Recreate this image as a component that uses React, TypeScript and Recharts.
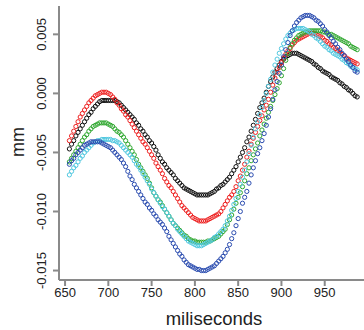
import React from "react";
import { ComposedChart, Line, XAxis, YAxis } from "recharts";

// time axis, one sample every 2.5 ms
const ms = [
  655, 657.5, 660, 662.5, 665, 667.5, 670, 672.5, 675, 677.5, 680, 682.5, 685, 687.5, 690, 692.5, 695, 697.5, 700, 702.5,
  705, 707.5, 710, 712.5, 715, 717.5, 720, 722.5, 725, 727.5, 730, 732.5, 735, 737.5, 740, 742.5, 745, 747.5, 750, 752.5,
  755, 757.5, 760, 762.5, 765, 767.5, 770, 772.5, 775, 777.5, 780, 782.5, 785, 787.5, 790, 792.5, 795, 797.5, 800, 802.5,
  805, 807.5, 810, 812.5, 815, 817.5, 820, 822.5, 825, 827.5, 830, 832.5, 835, 837.5, 840, 842.5, 845, 847.5, 850, 852.5,
  855, 857.5, 860, 862.5, 865, 867.5, 870, 872.5, 875, 877.5, 880, 882.5, 885, 887.5, 890, 892.5, 895, 897.5, 900, 902.5,
  905, 907.5, 910, 912.5, 915, 917.5, 920, 922.5, 925, 927.5, 930, 932.5, 935, 937.5, 940, 942.5, 945, 947.5, 950, 952.5,
  955, 957.5, 960, 962.5, 965, 967.5, 970, 972.5, 975, 977.5, 980, 982.5, 985, 987.5,
];

const blackVals = [
  -0.0047, -0.0043, -0.004, -0.0036, -0.0033, -0.003, -0.0027, -0.0024, -0.0021, -0.0018, -0.0016, -0.0013, -0.0011, -0.0009, -0.0007, -0.0006, -0.0006, -0.0006, -0.0006, -0.0006,
  -0.0006, -0.0006, -0.0007, -0.0008, -0.001, -0.0012, -0.0014, -0.0016, -0.0018, -0.002, -0.0022, -0.0025, -0.0027, -0.003, -0.0032, -0.0035, -0.0037, -0.004, -0.0042, -0.0045,
  -0.0048, -0.0052, -0.0055, -0.0058, -0.006, -0.0063, -0.0065, -0.0067, -0.0069, -0.0072, -0.0074, -0.0076, -0.0078, -0.008, -0.0081, -0.0082, -0.0083, -0.0084, -0.0085, -0.0086,
  -0.0086, -0.0086, -0.0086, -0.0086, -0.0086, -0.0085, -0.0084, -0.0083, -0.0081, -0.008, -0.0078, -0.0077, -0.0075, -0.0073, -0.0071, -0.0068, -0.0065, -0.0062, -0.0058, -0.0054,
  -0.005, -0.0046, -0.0041, -0.0037, -0.0032, -0.0027, -0.0022, -0.0017, -0.0012, -0.0008, -0.0004, 0.0001, 0.0006, 0.001, 0.0014, 0.0018, 0.0021, 0.0024, 0.0027, 0.0029,
  0.0031, 0.0032, 0.0033, 0.0034, 0.0034, 0.0034, 0.0033, 0.0032, 0.0031, 0.003, 0.0029, 0.0028, 0.0027, 0.0025, 0.0024, 0.0022, 0.0021, 0.0019, 0.0018, 0.0017,
  0.0016, 0.0014, 0.0013, 0.0012, 0.0011, 0.0009, 0.0008, 0.0006, 0.0005, 0.0003, 0.0002, 0.0, -0.0002, -0.0003,
];

const redVals = [
  -0.004, -0.0036, -0.0032, -0.0028, -0.0024, -0.002, -0.0017, -0.0014, -0.0011, -0.0008, -0.0006, -0.0004, -0.0002, -0.0001, 0.0, 0.0001, 0.0001, 0.0001, 0.0, -0.0001,
  -0.0003, -0.0005, -0.0008, -0.001, -0.0013, -0.0015, -0.0018, -0.002, -0.0023, -0.0026, -0.0029, -0.0032, -0.0035, -0.0038, -0.0041, -0.0043, -0.0046, -0.0049, -0.0052, -0.0055,
  -0.0059, -0.0062, -0.0065, -0.0068, -0.0072, -0.0075, -0.0078, -0.008, -0.0083, -0.0086, -0.0089, -0.0092, -0.0095, -0.0097, -0.0099, -0.0101, -0.0103, -0.0105, -0.0106, -0.0107,
  -0.0108, -0.0108, -0.0108, -0.0108, -0.0107, -0.0106, -0.0105, -0.0104, -0.0103, -0.0102, -0.01, -0.0097, -0.0094, -0.0091, -0.0088, -0.0086, -0.0083, -0.0079, -0.0074, -0.007,
  -0.0065, -0.006, -0.0054, -0.0049, -0.0043, -0.0038, -0.0033, -0.0028, -0.0023, -0.0019, -0.0014, -0.001, -0.0005, 0.0001, 0.0007, 0.0013, 0.0018, 0.0022, 0.0026, 0.003,
  0.0033, 0.0036, 0.0038, 0.0041, 0.0043, 0.0045, 0.0046, 0.0047, 0.0048, 0.0049, 0.005, 0.0051, 0.0051, 0.0051, 0.005, 0.0049, 0.0048, 0.0047, 0.0045, 0.0044,
  0.0042, 0.0041, 0.0039, 0.0038, 0.0036, 0.0035, 0.0033, 0.0032, 0.003, 0.0029, 0.0028, 0.0027, 0.0026, 0.0025,
];

const greenVals = [
  -0.0058, -0.0055, -0.0052, -0.0049, -0.0046, -0.0043, -0.004, -0.0037, -0.0035, -0.0032, -0.003, -0.0028, -0.0027, -0.0026, -0.0025, -0.0025, -0.0025, -0.0025, -0.0026, -0.0027,
  -0.0028, -0.003, -0.0032, -0.0033, -0.0035, -0.0037, -0.004, -0.0043, -0.0046, -0.0049, -0.0052, -0.0056, -0.006, -0.0063, -0.0066, -0.0069, -0.0072, -0.0076, -0.008, -0.0084,
  -0.0087, -0.009, -0.0092, -0.0095, -0.0098, -0.0101, -0.0104, -0.0107, -0.011, -0.0112, -0.0114, -0.0116, -0.0118, -0.012, -0.0121, -0.0123, -0.0124, -0.0125, -0.0125, -0.0126,
  -0.0126, -0.0126, -0.0126, -0.0126, -0.0125, -0.0125, -0.0124, -0.0123, -0.0122, -0.0121, -0.0119, -0.0117, -0.0115, -0.0111, -0.0107, -0.0103, -0.0098, -0.0093, -0.0088, -0.0084,
  -0.0079, -0.0074, -0.0068, -0.0063, -0.0057, -0.0052, -0.0047, -0.0042, -0.0036, -0.0031, -0.0026, -0.0021, -0.0016, -0.0011, -0.0006, -0.0001, 0.0004, 0.0009, 0.0015, 0.0021,
  0.0028, 0.0034, 0.0039, 0.0042, 0.0045, 0.0047, 0.0049, 0.005, 0.0051, 0.0052, 0.0052, 0.0053, 0.0053, 0.0053, 0.0053, 0.0053, 0.0053, 0.0052, 0.0052, 0.0051,
  0.005, 0.005, 0.0049, 0.0048, 0.0047, 0.0046, 0.0045, 0.0044, 0.0043, 0.0042, 0.004, 0.0039, 0.0038, 0.0037,
];

const cyanVals = [
  -0.0069, -0.0066, -0.0063, -0.0061, -0.0058, -0.0055, -0.0053, -0.005, -0.0048, -0.0046, -0.0044, -0.0042, -0.0041, -0.004, -0.004, -0.0039, -0.0039, -0.0039, -0.0039, -0.0039,
  -0.004, -0.004, -0.0041, -0.0042, -0.0044, -0.0046, -0.0048, -0.005, -0.0052, -0.0054, -0.0057, -0.006, -0.0062, -0.0065, -0.0068, -0.0071, -0.0074, -0.0077, -0.0081, -0.0084,
  -0.0087, -0.009, -0.0093, -0.0096, -0.0098, -0.0101, -0.0104, -0.0107, -0.011, -0.0112, -0.0115, -0.0117, -0.0119, -0.0121, -0.0123, -0.0125, -0.0126, -0.0127, -0.0128, -0.0129,
  -0.0129, -0.0129, -0.0128, -0.0127, -0.0126, -0.0125, -0.0124, -0.0122, -0.0121, -0.0119, -0.0117, -0.0115, -0.0112, -0.0108, -0.0104, -0.0099, -0.0094, -0.0089, -0.0083, -0.0077,
  -0.0071, -0.0065, -0.0058, -0.0051, -0.0044, -0.0037, -0.003, -0.0024, -0.0018, -0.0012, -0.0006, 0.0, 0.0006, 0.0012, 0.0018, 0.0024, 0.0029, 0.0034, 0.0038, 0.0042,
  0.0046, 0.0049, 0.0051, 0.0053, 0.0054, 0.0055, 0.0055, 0.0055, 0.0055, 0.0054, 0.0053, 0.0052, 0.005, 0.0049, 0.0047, 0.0046, 0.0044, 0.0042, 0.004, 0.0039,
  0.0037, 0.0036, 0.0034, 0.0033, 0.0032, 0.0031, 0.0029, 0.0028, 0.0026, 0.0025, 0.0023, 0.0022, 0.0021, 0.002,
];

const blueVals = [
  -0.006, -0.0057, -0.0055, -0.0052, -0.005, -0.0048, -0.0046, -0.0044, -0.0043, -0.0042, -0.0041, -0.0041, -0.0041, -0.0041, -0.0041, -0.0042, -0.0043, -0.0044, -0.0045, -0.0046,
  -0.0048, -0.005, -0.0052, -0.0054, -0.0056, -0.0059, -0.0062, -0.0066, -0.007, -0.0073, -0.0077, -0.008, -0.0083, -0.0086, -0.0089, -0.0092, -0.0094, -0.0097, -0.0099, -0.0102,
  -0.0104, -0.0107, -0.0109, -0.0111, -0.0114, -0.0117, -0.0121, -0.0124, -0.0127, -0.013, -0.0133, -0.0136, -0.0138, -0.0141, -0.0143, -0.0145, -0.0146, -0.0147, -0.0148, -0.0149,
  -0.0149, -0.015, -0.015, -0.015, -0.0149, -0.0148, -0.0147, -0.0146, -0.0144, -0.0142, -0.014, -0.0138, -0.0135, -0.0132, -0.0128, -0.0123, -0.0118, -0.0112, -0.0106, -0.01,
  -0.0093, -0.0088, -0.0083, -0.0076, -0.0069, -0.0063, -0.0057, -0.0051, -0.0046, -0.004, -0.0034, -0.0027, -0.002, -0.0013, -0.0005, 0.0003, 0.001, 0.0017, 0.0024, 0.0031,
  0.0037, 0.0043, 0.0049, 0.0053, 0.0057, 0.006, 0.0062, 0.0064, 0.0065, 0.0066, 0.0066, 0.0066, 0.0065, 0.0064, 0.0062, 0.0061, 0.0059, 0.0057, 0.0054, 0.0052,
  0.0049, 0.0047, 0.0044, 0.0042, 0.0039, 0.0037, 0.0034, 0.0032, 0.0029, 0.0027, 0.0024, 0.0022, 0.0019, 0.0018,
];

const xTicks = [650, 700, 750, 800, 850, 900, 950];
const yTicks = [-0.015, -0.01, -0.005, 0, 0.005];

const series = [
  { key: "black", color: "#111111" },
  { key: "red", color: "#ee2020" },
  { key: "green", color: "#30a830" },
  { key: "cyan", color: "#50c8e0" },
  { key: "blue", color: "#2a4cb0" },
];

const rows = ms.map((t, i) => ({
  ms: t,
  black: blackVals[i],
  red: redVals[i],
  green: greenVals[i],
  cyan: cyanVals[i],
  blue: blueVals[i],
}));

const font = "'Liberation Sans', Arial, sans-serif";
const boxColor = "#8a8a8a";

function YTick(props: any) {
  const { y, payload } = props;
  return (
    <text
      x={46}
      y={y}
      transform={`rotate(-90 46 ${y})`}
      textAnchor="middle"
      fontSize={13}
      fontFamily={font}
      fill="#222"
    >
      {payload.value.toFixed(3)}
    </text>
  );
}

export default function App() {
  return (
    <div
      style={{
        position: "absolute",
        left: 0,
        top: 0,
        width: 364,
        height: 330,
        overflow: "hidden",
        background: "#fff",
      }}
    >
      <ComposedChart
        width={372}
        height={330}
        data={rows}
        margin={{ top: 6, right: 4, bottom: 0, left: 0 }}
      >
        <XAxis
          xAxisId="top"
          orientation="top"
          type="number"
          dataKey="ms"
          domain={[643, 1000]}
          height={0}
          tick={false}
          tickLine={false}
          axisLine={{ stroke: boxColor, strokeWidth: 2 }}
        />
        <XAxis
          type="number"
          dataKey="ms"
          domain={[643, 1000]}
          allowDataOverflow
          ticks={xTicks}
          height={50}
          tickSize={6}
          tickLine={{ stroke: boxColor, strokeWidth: 2 }}
          axisLine={{ stroke: boxColor, strokeWidth: 2 }}
          tick={{ fill: "#222", fontSize: 13, fontFamily: font }}
          label={{
            content: () => (
              <text x={214} y={325} textAnchor="middle" fontSize={18.5} fontFamily={font} fill="#222">
                miliseconds
              </text>
            ),
          }}
        />
        <YAxis
          type="number"
          domain={[-0.0158, 0.0074]}
          allowDataOverflow
          ticks={yTicks}
          width={59}
          tickSize={6}
          tickLine={{ stroke: boxColor, strokeWidth: 2 }}
          axisLine={{ stroke: boxColor, strokeWidth: 2 }}
          tick={<YTick />}
          label={{
            content: () => (
              <text
                x={24}
                y={142}
                transform="rotate(-90 24 142)"
                textAnchor="middle"
                fontSize={18}
                fontFamily={font}
                fill="#222"
              >
                mm
              </text>
            ),
          }}
        />
        {series.map((s) => (
          <Line
            key={s.key}
            xAxisId={0}
            dataKey={s.key}
            stroke="none"
            isAnimationActive={false}
            activeDot={false}
            dot={{ r: 2.1, fill: "none", stroke: s.color, strokeWidth: 1 }}
          />
        ))}
      </ComposedChart>
    </div>
  );
}
